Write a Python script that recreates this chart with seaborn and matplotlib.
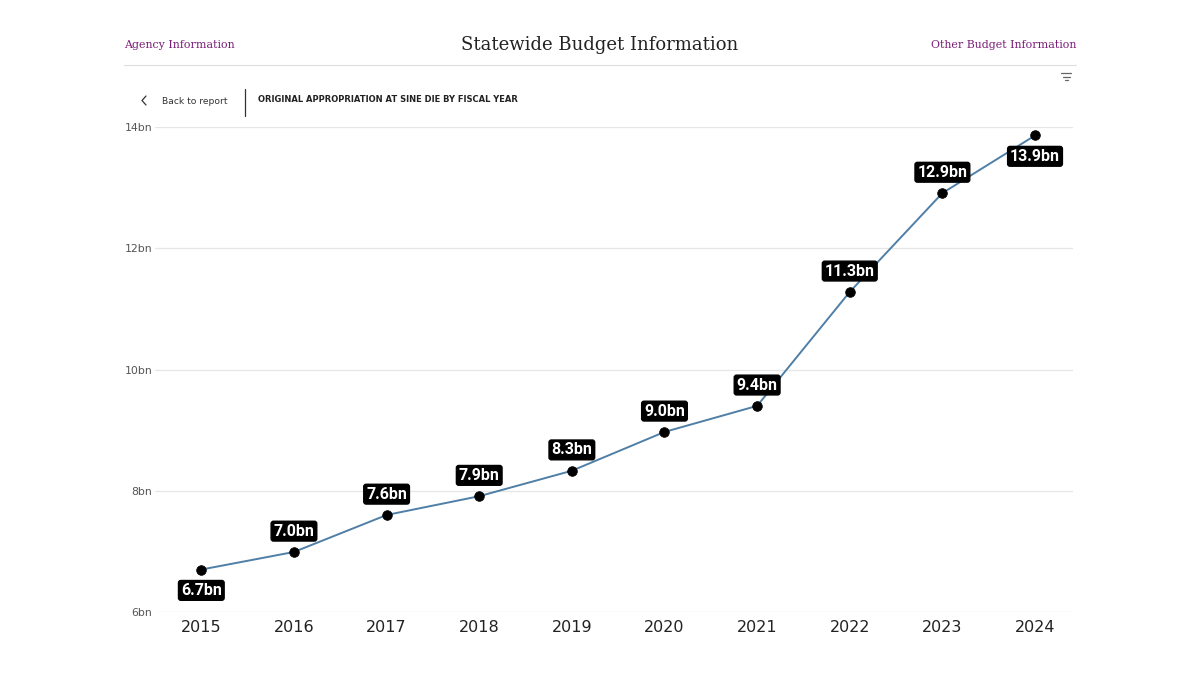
import numpy as np
import pandas as pd
import matplotlib.pyplot as plt
import seaborn as sns
from matplotlib.lines import Line2D

# Данные графика
years = [2015, 2016, 2017, 2018, 2019, 2020, 2021, 2022, 2023, 2024]
appropriation_bn = [6.70, 6.99, 7.60, 7.91, 8.33, 8.97, 9.40, 11.28, 12.91, 13.86]
label_below = [True, False, False, False, False, False, False, False, False, True]
y_ticks = [6, 8, 10, 12, 14]
y_tick_labels = ["6bn", "8bn", "10bn", "12bn", "14bn"]

df = pd.DataFrame({"year": years, "value": appropriation_bn})

sns.set_theme(style="white")
plt.rcParams['font.family'] = ['DejaVu Sans']

fig = plt.figure(figsize=(12, 6.75), dpi=100)
ax = fig.add_axes([155 / 1200, 1 - 612 / 675, (1073 - 155) / 1200, (612 - 127) / 675])

sns.lineplot(data=df, x="year", y="value", ax=ax, color="#4f7fa6", linewidth=1.4, zorder=2)
sns.scatterplot(data=df, x="year", y="value", ax=ax, color="black", s=48, edgecolor="black", zorder=3)

# Подписи значений
for yr, val, below in zip(years, appropriation_bn, label_below):
    off = -15 if below else 15
    ax.annotate(f"{val:.1f}bn", (yr, val), xytext=(0, off), textcoords="offset points",
                ha="center", va="center", color="white", fontsize=11.5, fontweight="bold",
                family="Roboto",
                bbox=dict(boxstyle="round,pad=0.15,rounding_size=0.15", fc="black", ec="black"),
                zorder=4)

ax.set_xlim(2014.5, 2024.41)
ax.set_ylim(6, 14)
ax.set_xticks(years)
ax.set_xticklabels([str(y) for y in years], fontsize=11.5, color="#222222")
ax.set_yticks(y_ticks)
ax.set_yticklabels(y_tick_labels, fontsize=7.8, color="#555555")
ax.tick_params(axis="x", length=0, pad=6)
ax.tick_params(axis="y", length=0, pad=2)
ax.set_xlabel("")
ax.set_ylabel("")
ax.yaxis.grid(True, color="#e6e6e6", linewidth=0.9)
ax.xaxis.grid(False)
for s in ax.spines.values():
    s.set_visible(False)

# Шапка страницы
purple = "#7a1e78"
fig.text(124 / 1200, 1 - 45 / 675, "Agency Information", ha="left", va="center",
         fontsize=7.9, color=purple, family="DejaVu Serif")
fig.text(600 / 1200, 1 - 45 / 675, "Statewide Budget Information", ha="center", va="center",
         fontsize=13, color="#222222", family="DejaVu Serif")
fig.text(1076 / 1200, 1 - 45 / 675, "Other Budget Information", ha="right", va="center",
         fontsize=7.9, color=purple, family="DejaVu Serif")
fig.add_artist(Line2D([124 / 1200, 1076 / 1200], [1 - 65 / 675, 1 - 65 / 675],
                      color="#dddddd", linewidth=0.8))

# Значок фильтра
for w, yy in [(5, 73), (3.5, 76.5), (1.5, 80)]:
    fig.add_artist(Line2D([(1066 - w) / 1200, (1066 + w) / 1200], [1 - yy / 675, 1 - yy / 675],
                          color="#666666", linewidth=0.9))

# Навигация
fig.add_artist(Line2D([146 / 1200, 142 / 1200, 146 / 1200],
                      [1 - 96 / 675, 1 - 100.5 / 675, 1 - 105 / 675], color="#333333", linewidth=0.9))
fig.text(162 / 1200, 1 - 101 / 675, "Back to report", ha="left", va="center",
         fontsize=6.6, color="#333333")
fig.add_artist(Line2D([245 / 1200, 245 / 1200], [1 - 89 / 675, 1 - 116 / 675],
                      color="#333333", linewidth=0.9))
fig.text(258 / 1200, 1 - 100 / 675, "ORIGINAL APPROPRIATION AT SINE DIE BY FISCAL YEAR",
         ha="left", va="center", fontsize=6.0, fontweight="bold", color="#222222")

fig.savefig("out.png", dpi=100, facecolor="white")
